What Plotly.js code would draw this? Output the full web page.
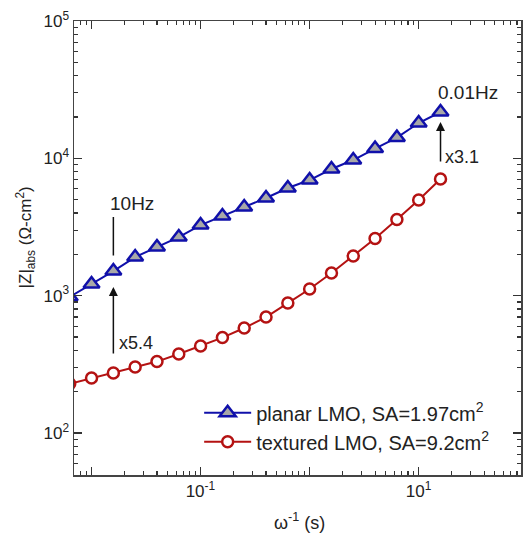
<!DOCTYPE html>
<html>
<head>
<meta charset="utf-8">
<script src="https://cdn.plot.ly/plotly-3.0.1.min.js"></script>
<style>html,body{margin:0;padding:0;background:#fff;}#chart{width:524px;height:534px;}</style>
</head>
<body>
<div id="chart"></div>
<script>
// inverse angular frequency, 1/(2*pi*f), f from ~25 Hz down to 0.01 Hz
const invOmega = [0.006336, 0.01004, 0.01592, 0.02522, 0.03998, 0.06336, 0.1004, 0.1592, 0.2522, 0.3998, 0.6336, 1.004, 1.592, 2.522, 3.998, 6.336, 10.04, 15.92];
const planarZ = [980, 1215, 1511, 1910, 2260, 2672, 3268, 3800, 4419, 5139, 6077, 6950, 8360, 9720, 11790, 14170, 18070, 21740];
const texturedZ = [228, 251, 273, 302, 331, 376, 430, 495, 581, 698, 883, 1117, 1461, 1942, 2604, 3584, 4969, 7060];
const seriesNames = ['planar LMO, SA=1.97cm<sup>2</sup>', 'textured LMO, SA=9.2cm<sup>2</sup>'];
const xTickVals = [0.01, 0.1, 1, 10];
const xTickText = ['', '10<sup>-1</sup>', '', '10<sup>1</sup>'];
const yTickVals = [100, 1000, 10000, 100000];
const yTickText = ['10<sup>2</sup>', '10<sup>3</sup>', '10<sup>4</sup>', '10<sup>5</sup>'];

const FONT = 'Liberation Sans, Arial, sans-serif';
const BLUE = '#1010aa';
const RED = '#b41212';

const traces = [
  {
    x: invOmega, y: planarZ, name: seriesNames[0], type: 'scatter', mode: 'lines+markers',
    line: {color: BLUE, width: 2},
    marker: {symbol: 'triangle-up', size: 14, color: '#a8a8a8', line: {color: BLUE, width: 2.5}}
  },
  {
    x: invOmega, y: texturedZ, name: seriesNames[1], type: 'scatter', mode: 'lines+markers',
    line: {color: RED, width: 2},
    marker: {symbol: 'circle', size: 11, color: '#ffffff', line: {color: RED, width: 2.5}}
  }
];

const axisCommon = {
  type: 'log', showgrid: false, zeroline: false,
  showline: true, linecolor: '#444', linewidth: 1.5, mirror: 'ticks',
  ticks: 'inside', ticklen: 8, tickwidth: 1.5, tickcolor: '#333',
  tickmode: 'array',
  tickfont: {family: FONT, size: 17, color: '#222'},
  minor: {ticks: 'inside', ticklen: 4, tickwidth: 1.2, tickcolor: '#333', dtick: 'D1', showgrid: false}
};

const layout = {
  width: 524, height: 534,
  margin: {l: 74, r: 3, t: 21, b: 59},
  paper_bgcolor: '#fff', plot_bgcolor: '#fff',
  font: {family: FONT, color: '#222'},
  showlegend: true,
  legend: {
    x: 0.28, y: 0.18, xanchor: 'left', yanchor: 'top',
    bgcolor: 'rgba(0,0,0,0)', borderwidth: 0,
    font: {family: FONT, size: 20, color: '#222'},
    itemwidth: 47,
    tracegroupgap: 0
  },
  xaxis: Object.assign({}, axisCommon, {
    range: [-2.159, 1.94], tickvals: xTickVals, ticktext: xTickText
  }),
  yaxis: Object.assign({}, axisCommon, {
    range: [1.694, 5], tickvals: yTickVals, ticktext: yTickText
  }),
  annotations: [
    {xref: 'paper', yref: 'paper', x: -0.109, y: 0.524, xanchor: 'center', yanchor: 'middle',
     text: '|Z|<sub>abs</sub> (Ω-cm<sup>2</sup>)',
     textangle: -90, showarrow: false, font: {family: FONT, size: 17, color: '#222'}},
    {xref: 'paper', yref: 'paper', x: 0.504, y: -0.1035, xanchor: 'center', yanchor: 'middle',
     text: 'ω<sup>-1</sup> (s)',
     showarrow: false, font: {family: FONT, size: 18, color: '#222'}},
    // 10 Hz marker line
    {xref: 'x', yref: 'y', x: -1.798, y: 3.572, ax: 0, ay: 40, text: '', showarrow: true,
     arrowhead: 0, arrowwidth: 1.5, arrowcolor: '#111'},
    {xref: 'x', yref: 'y', x: -1.848, y: 3.674, text: '10Hz', showarrow: false, xanchor: 'left',
     font: {family: FONT, size: 19, color: '#222'}},
    // x5.4 arrow
    {xref: 'x', yref: 'y', x: -1.798, y: 3.063, ax: 0, ay: 68, text: '', showarrow: true,
     arrowhead: 2, arrowsize: 1.2, arrowwidth: 1.5, arrowcolor: '#111'},
    {xref: 'x', yref: 'y', x: -1.765, y: 2.655, text: 'x5.4', showarrow: false, xanchor: 'left',
     font: {family: FONT, size: 18, color: '#222'}},
    // 0.01 Hz
    {xref: 'x', yref: 'y', x: 1.162, y: 4.476, text: '0.01Hz', showarrow: false, xanchor: 'left',
     font: {family: FONT, size: 19, color: '#222'}},
    // x3.1 arrow
    {xref: 'x', yref: 'y', x: 1.202, y: 4.264, ax: 0, ay: 41, text: '', showarrow: true,
     arrowhead: 2, arrowsize: 1.2, arrowwidth: 1.5, arrowcolor: '#111'},
    {xref: 'x', yref: 'y', x: 1.225, y: 4.009, text: 'x3.1', showarrow: false, xanchor: 'left',
     font: {family: FONT, size: 18, color: '#222'}}
  ]
};

Plotly.newPlot('chart', traces, layout, {displayModeBar: false, staticPlot: true});
</script>
</body>
</html>
